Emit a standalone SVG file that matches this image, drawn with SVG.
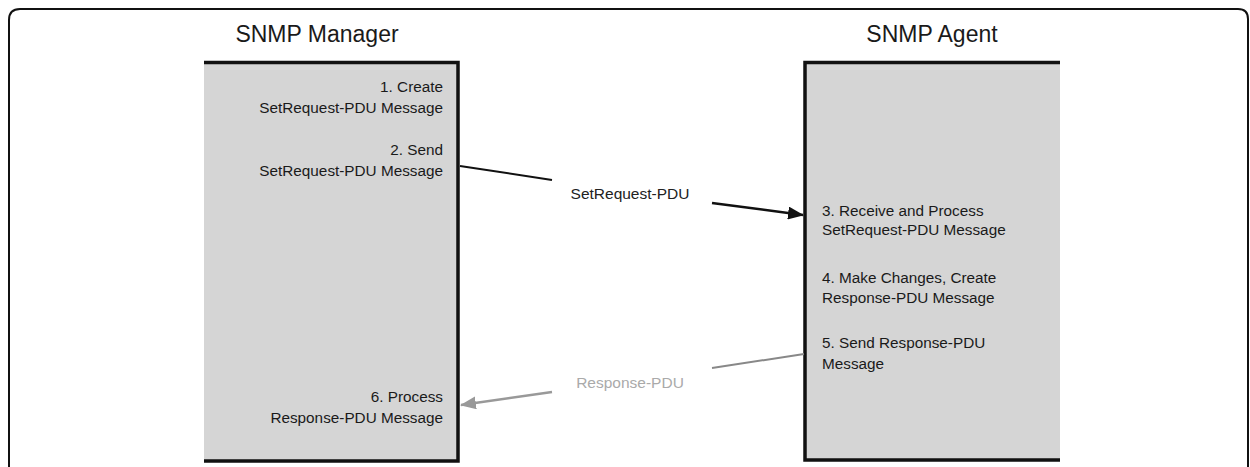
<svg xmlns="http://www.w3.org/2000/svg" width="1250" height="467" viewBox="0 0 1250 467">
  <style>
    .title { font-family: "Liberation Sans", Arial, sans-serif; font-size: 23px; fill: #1a1a1a; }
    .lbl { font-family: "Liberation Sans", Arial, sans-serif; font-size: 15.3px; fill: #1a1a1a; }
    .msg { font-family: "Liberation Sans", Arial, sans-serif; font-size: 15.5px; fill: #222; text-anchor: middle; }
    .msg2 { font-family: "Liberation Sans", Arial, sans-serif; font-size: 15.5px; fill: #aaa; text-anchor: middle; }
    .box { fill: #d5d5d5; stroke: none; }
    .edge { stroke: #111; stroke-width: 3.5; fill: none; }
  </style>
  <defs>
    <marker id="ahBlack" markerWidth="16" markerHeight="13" refX="15" refY="6.5" orient="auto" markerUnits="userSpaceOnUse" viewBox="0 0 16 13">
      <path d="M0,0 L16,6.5 L0,13 z" fill="#111"/>
    </marker>
    <marker id="ahGray" markerWidth="16" markerHeight="13" refX="15" refY="6.5" orient="auto" markerUnits="userSpaceOnUse" viewBox="0 0 16 13">
      <path d="M0,0 L16,6.5 L0,13 z" fill="#999"/>
    </marker>
  </defs>
  <rect width="1250" height="467" fill="#fff"/>
  <path d="M9,480 L9,20 Q9,9 20,9 L1238,9 Q1248,9 1248,19 L1248,480" fill="none" stroke="#111" stroke-width="2"/>

  <g id="manager">
    <text class="title" x="317" y="42" text-anchor="middle">SNMP Manager</text>
    <rect class="box" x="204" y="62" width="254" height="399"/>
    <path class="edge" d="M204,62.5 L458,62.5 L458,461 L204,461"/>
    <g class="lbl" text-anchor="end">
      <text x="443" y="92">1. Create</text>
      <text x="443" y="113">SetRequest-PDU Message</text>
      <text x="443" y="155">2. Send</text>
      <text x="443" y="176">SetRequest-PDU Message</text>
      <text x="443" y="402">6. Process</text>
      <text x="443" y="423">Response-PDU Message</text>
    </g>
  </g>

  <g id="agent">
    <text class="title" x="932" y="42" text-anchor="middle">SNMP Agent</text>
    <rect class="box" x="805" y="62" width="255" height="399"/>
    <path class="edge" d="M1060,62.5 L805,62.5 L805,460 L1060,460"/>
    <g class="lbl">
      <text x="822" y="216">3. Receive and Process</text>
      <text x="822" y="235">SetRequest-PDU Message</text>
      <text x="822" y="283">4. Make Changes, Create</text>
      <text x="822" y="303">Response-PDU Message</text>
      <text x="822" y="348">5. Send Response-PDU</text>
      <text x="822" y="369">Message</text>
    </g>
  </g>

  <g id="connectors">
    <line x1="460" y1="166" x2="552" y2="180" stroke="#111" stroke-width="2"/>
    <line x1="712" y1="203" x2="803" y2="215" stroke="#111" stroke-width="2.5" marker-end="url(#ahBlack)"/>
    <text class="msg" x="630" y="199">SetRequest-PDU</text>
    <line x1="804" y1="354" x2="712" y2="368" stroke="#888" stroke-width="2"/>
    <line x1="552" y1="392" x2="461" y2="405" stroke="#999" stroke-width="2.5" marker-end="url(#ahGray)"/>
    <text class="msg2" x="630" y="388">Response-PDU</text>
  </g>
</svg>
